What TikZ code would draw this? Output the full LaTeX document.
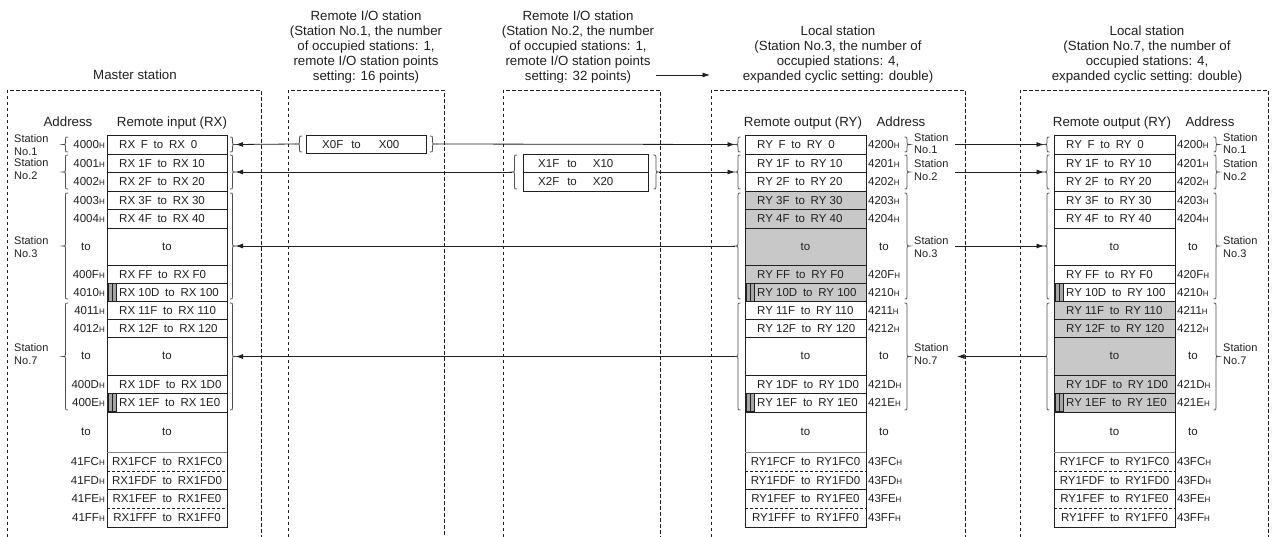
\documentclass[tikz,border=0pt]{standalone}
\usepackage{fontspec}
\setmainfont{Liberation Sans}
\usepackage{tikz}
\usetikzlibrary{arrows.meta,positioning}
\definecolor{ink}{RGB}{35,31,32}
\definecolor{cellgray}{RGB}{200,200,200}
\definecolor{bargray}{RGB}{165,165,165}
\newcommand{\hsub}{{\fontsize{8}{8}\selectfont H}}
\newcommand{\tto}{\enspace to\enspace}
% braces: spine x, top y, bottom y
\newcommand{\leftbrc}[3]{%
  \draw[brc] (#1+2.5,#2) .. controls (#1,#2) .. (#1,#2+2.5)
    -- (#1,{(#2+#3)/2-2.5}) .. controls (#1,{(#2+#3)/2}) .. (#1-3,{(#2+#3)/2})
    .. controls (#1,{(#2+#3)/2}) .. (#1,{(#2+#3)/2+2.5})
    -- (#1,#3-2.5) .. controls (#1,#3) .. (#1+2.5,#3);}
\newcommand{\rightbrc}[3]{%
  \draw[brc] (#1-2.5,#2) .. controls (#1,#2) .. (#1,#2+2.5)
    -- (#1,{(#2+#3)/2-2.5}) .. controls (#1,{(#2+#3)/2}) .. (#1+3,{(#2+#3)/2})
    .. controls (#1,{(#2+#3)/2}) .. (#1,{(#2+#3)/2+2.5})
    -- (#1,#3-2.5) .. controls (#1,#3) .. (#1-2.5,#3);}

\tikzset{
  stnbox/.style={draw=ink, line width=0.6pt, dash pattern=on 3.5pt off 2.5pt},
  cell/.style={draw=ink, line width=0.8pt},
  dcell/.style={draw=ink, line width=0.8pt, dash pattern=on 3pt off 2pt},
  ttl/.style={font=\fontsize{13.3}{15}\selectfont, align=center, anchor=south, inner sep=0pt, text=ink},
  hdr/.style={font=\fontsize{13.3}{16}\selectfont, anchor=base, inner sep=0pt, text=ink},
  reg/.style={font=\fontsize{11.5}{13}\selectfont, anchor=base west, inner sep=0pt, text=ink},
  adr/.style={font=\fontsize{11.5}{13}\selectfont, inner sep=0pt, text=ink},
  stn/.style={font=\fontsize{11}{12.5}\selectfont, align=left, anchor=west, inner sep=0pt, text=ink},
  brc/.style={draw=ink!80, line width=0.75pt},
  sig/.style={draw=ink, line width=0.8pt, -{Latex[length=7.5pt,width=5pt]}},
  bar/.style={fill=bargray, draw=ink, line width=0.5pt},
}

\begin{document}
\begin{tikzpicture}[x=1pt, y=-1pt]
  \useasboundingbox (0,0) rectangle (1275,536);

  % master station
  \draw[stnbox] (7,537) |- (261,90) -- (261,537);
  \node[ttl] (m-title) at (135,80) {Master station};
  \node[hdr] (m-ha) at (68,126) {Address};
  \node[hdr] (m-hx) at (172,126) {Remote input (RX)};
  \draw[cell] (107,135) rectangle (227,527);
  \foreach \y in {154,172,191,209,228,265,283,301,319,337,375,393,412,489}
    \draw[cell] (107,\y) -- (227,\y);
  \draw[cell, draw=ink!55] (107,452) -- (227,452);
  \foreach \y in {471,508}
    \draw[dcell] (107,\y) -- (227,\y);
  \foreach \y in {283,393}{
    \draw[bar] (108,\y) rectangle (116,\y+18.5);
    \draw[ink, line width=0.5pt] (112,\y) -- (112,\y+18.5);
  }
  \foreach \y/\a/\t [count=\k] in {
      144.5/4000/{RX\enspace F\tto RX\enspace 0},
      163/4001/{RX 1F\tto RX 10},
      181.5/4002/{RX 2F\tto RX 20},
      200/4003/{RX 3F\tto RX 30},
      218.5/4004/{RX 4F\tto RX 40},
      274/400F/{RX FF\tto RX F0},
      292/4010/{RX 10D\tto RX 100},
      310/4011/{RX 11F\tto RX 110},
      328/4012/{RX 12F\tto RX 120},
      384/400D/{RX 1DF\tto RX 1D0},
      402.5/400E/{RX 1EF\tto RX 1E0}}{
    \node[adr, anchor=base east] (m-a\k) at (105,\y+4) {\a\hsub};
    \node[reg] (m-r\k) at (119,\y+4) {\t};
  }
  \foreach \y/\a/\t [count=\k] in {
      461.5/41FC/{RX1FCF\tto RX1FC0},
      480/41FD/{RX1FDF\tto RX1FD0},
      498.5/41FE/{RX1FEF\tto RX1FE0},
      517.5/41FF/{RX1FFF\tto RX1FF0}}{
    \node[adr, anchor=base east] (m-e\k) at (105,\y+4) {\a\hsub};
    \node[adr, anchor=base] (m-f\k) at (167,\y+4) {\t};
  }
  \foreach \y [count=\k] in {246.5,356,432}{
    \node[adr] (m-ta\k) at (86,\y) {to};
    \node[adr] (m-tx\k) at (167,\y) {to};
  }
  \node[stn] (m-s1) at (14,145) {Station\\No.1};
  \node[stn] (m-s2) at (14,169) {Station\\No.2};
  \node[stn] (m-s3) at (14,247) {Station\\No.3};
  \node[stn] (m-s7) at (14,354) {Station\\No.7};
  \leftbrc{65.5}{137}{152}
  \leftbrc{65.5}{155}{189}
  \leftbrc{65.5}{193}{299}
  \leftbrc{65.5}{303}{410}
  \rightbrc{232.5}{137}{152}
  \rightbrc{232.5}{155}{189}
  \rightbrc{232.5}{193}{299}
  \rightbrc{232.5}{303}{410}
  \coordinate (m-b1) at (235.5,144.5);
  \coordinate (m-b2) at (235.5,172);
  \coordinate (m-b3) at (235.5,246);
  \coordinate (m-b7) at (235.5,356.5);

  % remote I/O station 1
  \draw[stnbox] (288,537) |- (444,90) -- (444,537);
  \node[ttl] (r1-title) at (366,83) {Remote I/O station\\(Station No.1, the number\\of occupied stations: 1,\\remote I/O station points\\setting: 16 points)};
  \draw[cell] (306,135) rectangle (426,153);
  \node[reg] (r1-x) at (322,148) {X0F\hspace{8pt}to\hspace{18pt}X00};
  \leftbrc{299.5}{136}{152}
  \rightbrc{432.5}{136}{152}
  \coordinate (r1-l) at (296.5,144);
  \coordinate (r1-r) at (435.5,144);

  % remote I/O station 2
  \draw[stnbox] (503,537) |- (660,90) -- (660,537);
  \node[ttl] (r2-title) at (578,83) {Remote I/O station\\(Station No.2, the number\\of occupied stations: 1,\\remote I/O station points\\setting: 32 points)};
  \draw[cell] (523,154) rectangle (648,191);
  \draw[cell] (523,172) -- (648,172);
  \node[reg] (r2-x1) at (538,167) {X1F\hspace{8pt}to\hspace{16pt}X10};
  \node[reg] (r2-x2) at (538,185.5) {X2F\hspace{8pt}to\hspace{16pt}X20};
  \leftbrc{514.5}{155}{189}
  \rightbrc{656}{155}{189}
  \coordinate (r2-l) at (511.5,172);
  \coordinate (r2-r) at (659,172);

  \coordinate (flow-a) at (656,75);
  \coordinate (flow-b) at (710,75);
  \draw[sig] (flow-a) -- (flow-b);

  % local stations 3 and 7
  \foreach \dx/\st/\num/\sa/\sb/\rx in {0/l3/3/191/301/965, 309/l7/7/301/412/959}{
    \begin{scope}[xshift=\dx pt]
      \draw[stnbox] (711,537) |- (\rx,90) -- (\rx,537);
      \node[ttl] (\st-title) at (838,83) {Local station\\(Station No.\num, the number of\\occupied stations: 4,\\expanded cyclic setting: double)};
      \node[hdr] (\st-hy) at (803,126) {Remote output (RY)};
      \node[hdr] (\st-ha) at (901,126) {Address};
      \fill[cellgray] (745,\sa) rectangle (866,\sb);
      \draw[cell] (745,135) rectangle (866,527);
      \foreach \y in {154,172,191,209,228,265,283,301,319,337,375,393,412,489}
        \draw[cell] (745,\y) -- (866,\y);
      \draw[cell, draw=ink!55] (745,452) -- (866,452);
      \foreach \y in {471,508}
        \draw[dcell] (745,\y) -- (866,\y);
      \foreach \y in {283,393}{
        \draw[bar] (746.5,\y) rectangle (754.5,\y+18.5);
        \draw[ink, line width=0.5pt] (750.5,\y) -- (750.5,\y+18.5);
      }
      \foreach \y/\a/\t [count=\k] in {
          144.5/4200/{RY\enspace F\tto RY\enspace 0},
          163/4201/{RY 1F\tto RY 10},
          181.5/4202/{RY 2F\tto RY 20},
          200/4203/{RY 3F\tto RY 30},
          218.5/4204/{RY 4F\tto RY 40},
          274/420F/{RY FF\tto RY F0},
          292/4210/{RY 10D\tto RY 100},
          310/4211/{RY 11F\tto RY 110},
          328/4212/{RY 12F\tto RY 120},
          384/421D/{RY 1DF\tto RY 1D0},
          402.5/421E/{RY 1EF\tto RY 1E0}}{
        \node[reg] (\st-r\k) at (757,\y+4) {\t};
        \node[adr, anchor=base west] (\st-a\k) at (868,\y+4) {\a\hsub};
      }
      \foreach \y/\a/\t [count=\k] in {
          461.5/43FC/{RY1FCF\tto RY1FC0},
          480/43FD/{RY1FDF\tto RY1FD0},
          498.5/43FE/{RY1FEF\tto RY1FE0},
          517.5/43FF/{RY1FFF\tto RY1FF0}}{
        \node[adr, anchor=base] (\st-f\k) at (805.5,\y+4) {\t};
        \node[adr, anchor=base west] (\st-e\k) at (868,\y+4) {\a\hsub};
      }
      \foreach \y [count=\k] in {246.5,356,432}{
        \node[adr] (\st-tx\k) at (805.5,\y) {to};
        \node[adr] (\st-ta\k) at (884,\y) {to};
      }
      \leftbrc{738}{137}{152}
      \leftbrc{738}{155}{189}
      \leftbrc{738}{193}{299}
      \leftbrc{738}{303}{410}
      \rightbrc{907}{137}{152}
      \rightbrc{907}{155}{189}
      \rightbrc{907}{193}{299}
      \rightbrc{907}{303}{410}
      \node[stn] (\st-s1) at (914,143.5) {Station\\No.1};
      \node[stn] (\st-s2) at (914,170) {Station\\No.2};
      \node[stn] (\st-s3) at (914,247) {Station\\No.3};
      \node[stn] (\st-s7) at (914,354) {Station\\No.7};
      \coordinate (\st-b1) at (735,144.5);
      \coordinate (\st-b2) at (735,172);
      \coordinate (\st-b3) at (735,246);
      \coordinate (\st-b7) at (735,356.5);
      \coordinate (\st-o1) at (955,144.5);
      \coordinate (\st-o2) at (955,172);
      \coordinate (\st-o3) at (955,246);
      \coordinate (\st-o7) at (957,356.5);
    \end{scope}
  }

  % data flow
  \draw[sig] (r1-l) -- (m-b1);
  \draw[sig] (r1-r) -- (l3-b1);
  \draw[sig] (r2-l) -- (m-b2);
  \draw[sig] (r2-r) -- (l3-b2);
  \draw[sig] (l3-b3) -- (m-b3);
  \draw[sig] (l3-b7) -- (m-b7);
  \draw[sig] (l3-o1) -- (l7-b1);
  \draw[sig] (l3-o2) -- (l7-b2);
  \draw[sig] (l3-o3) -- (l7-b3);
  \draw[sig] (l7-b7) -- (l3-o7);
\end{tikzpicture}
\end{document}
